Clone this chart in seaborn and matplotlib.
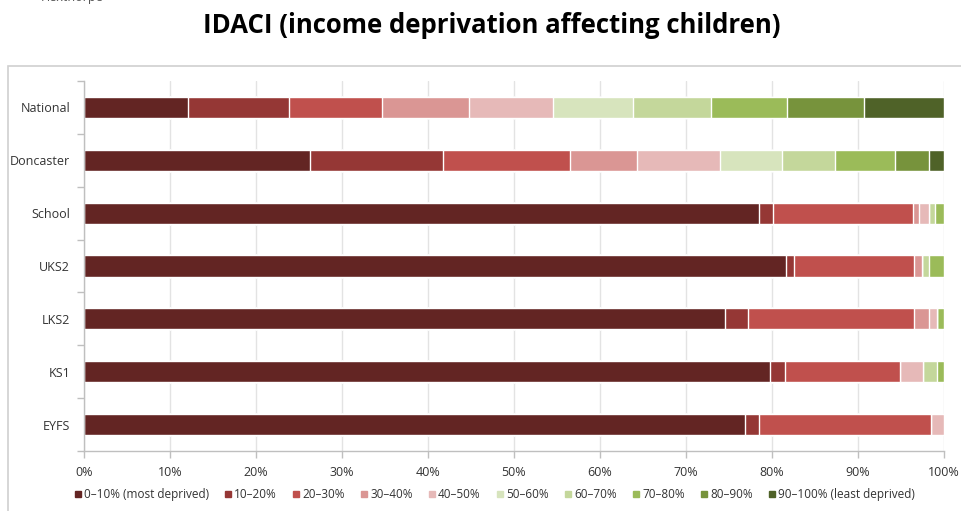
import numpy as np
import pandas as pd
import matplotlib
matplotlib.use("Agg")
import matplotlib.pyplot as plt
from matplotlib.lines import Line2D
from matplotlib.patches import Rectangle
import seaborn as sns

areas = ["National", "Doncaster", "School", "UKS2", "LKS2", "KS1", "EYFS"]
bands = ["0–10% (most deprived)", "10–20%", "20–30%", "30–40%", "40–50%",
         "50–60%", "60–70%", "70–80%", "80–90%", "90–100% (least deprived)"]
colors = ["#632523", "#953735", "#C0504D", "#DA9694", "#E6B9B8",
          "#D7E4BD", "#C4D79B", "#9BBB59", "#77933C", "#4F6228"]

national  = [12.1, 11.7, 10.9, 10.1, 9.7, 9.3, 9.1, 8.8, 9.0, 9.3]
doncaster = [26.3, 15.5, 14.7, 7.8, 9.7, 7.2, 6.1, 7.0, 3.9, 1.8]
school    = [78.5, 1.6, 16.3, 0.7, 1.2, 0.0, 0.7, 1.0, 0.0, 0.0]
uks2      = [81.6, 0.9, 14.0, 0.9, 0.0, 0.0, 0.8, 1.8, 0.0, 0.0]
lks2      = [74.5, 2.7, 19.3, 1.7, 0.95, 0.0, 0.0, 0.85, 0.0, 0.0]
ks1       = [79.8, 1.7, 13.4, 0.0, 2.6, 0.0, 1.7, 0.8, 0.0, 0.0]
eyfs      = [76.9, 1.6, 20.0, 0.0, 1.5, 0.0, 0.0, 0.0, 0.0, 0.0]
xticks = [0, 10, 20, 30, 40, 50, 60, 70, 80, 90, 100]

values = np.array([national, doncaster, school, uks2, lks2, ks1, eyfs])
values = values / values.sum(axis=1, keepdims=True) * 100
cum = np.cumsum(values, axis=1)

sns.set_theme(style="white")
plt.rcParams["font.family"] = ["Open Sans", "DejaVu Sans"]

fig = plt.figure(figsize=(9.62, 5.11), dpi=100)
ax = fig.add_axes([0.0873, 0.1174, 0.894, 0.7241])

for i in range(len(bands) - 1, -1, -1):
    df = pd.DataFrame({"area": areas, "value": cum[:, i]})
    sns.barplot(data=df, x="value", y="area", orient="h", color=colors[i],
                width=0.4, edgecolor="white", linewidth=1.0, saturation=1,
                ax=ax)

ax.set_xlim(0, 100)
ax.set_ylim(6.5, -0.5)
ax.set_xlabel("")
ax.set_ylabel("")
ax.set_xticks(xticks)
ax.set_xticklabels([f"{t}%" for t in xticks], fontsize=9, color="#333333")
ax.set_yticks(range(len(areas)))
ax.set_yticklabels(areas, fontsize=9, color="#333333")
ax.set_yticks(np.arange(-0.5, len(areas), 1), minor=True)
ax.tick_params(axis="y", which="major", length=0, pad=10)
ax.tick_params(axis="y", which="minor", length=5, color="#bfbfbf", width=1, direction="out", left=True)
ax.tick_params(axis="x", which="major", length=5, color="#bfbfbf", width=1, direction="out", bottom=True, pad=6)
ax.grid(axis="x", color="#e3e3e3", linewidth=1)
ax.set_axisbelow(True)
for s in ["top", "right"]:
    ax.spines[s].set_visible(False)
for s in ["left", "bottom"]:
    ax.spines[s].set_color("#bfbfbf")
    ax.spines[s].set_linewidth(1)

fig.text(0.511, 0.951, "IDACI (income deprivation affecting children)",
         ha="center", va="center", fontsize=18.5, fontweight="bold", color="black")
fig.text(0.042, 1.005, "Hexthorpe", ha="left", va="center", fontsize=9, color="#555555")

frame = Rectangle((8 / 962, -0.05), 1.2, 1 - 66 / 511 + 0.05, transform=fig.transFigure,
                  fill=False, edgecolor="#d0d0d0", linewidth=1.2)
fig.patches.append(frame)

handles = [Line2D([0], [0], marker="s", linestyle="", markersize=5,
                  markerfacecolor=c, markeredgecolor=c) for c in colors]
fig.legend(handles, bands, loc="center", bbox_to_anchor=(0.5135, 0.033), ncol=10,
           frameon=False, fontsize=8.5, handletextpad=0.1, columnspacing=1.25,
           handlelength=0.8, labelcolor="#333333")

fig.savefig("out.png", dpi=100)
